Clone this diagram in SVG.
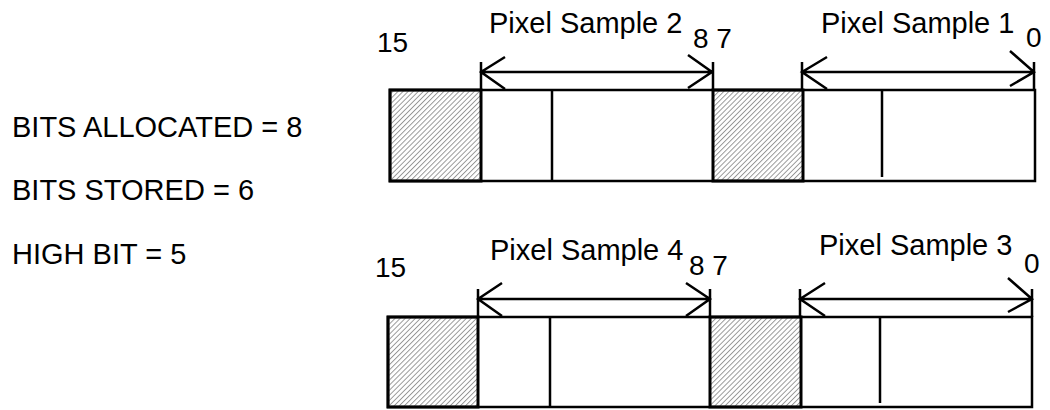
<svg xmlns="http://www.w3.org/2000/svg" width="1050" height="410" viewBox="0 0 1050 410">
<style>
text{font-family:"Liberation Sans",Arial,sans-serif;font-size:29px;fill:#000}
text.n{font-size:28px}
.box{fill:#fff;stroke:#000;stroke-width:2.5}
.hatch{fill:url(#h);stroke:#000;stroke-width:3}
.div{stroke:#000;stroke-width:2.5;fill:none}
.arr{stroke:#000;stroke-width:2.5;fill:none}
</style>
<defs>
<pattern id="h" width="3.6" height="10" patternUnits="userSpaceOnUse" patternTransform="rotate(45)">
<line x1="0.5" y1="0" x2="0.5" y2="10" stroke="#666" stroke-width="0.7"/>
</pattern>
</defs>
<g id="labels">
<text x="12" y="137">BITS ALLOCATED = 8</text>
<text x="12" y="200">BITS STORED = 6</text>
<text x="12" y="264">HIGH BIT = 5</text>
</g>
<g id="word1">
<rect class="box" x="390" y="90" width="645" height="91"/>
<rect class="hatch" x="390" y="90" width="91" height="91"/>
<rect class="hatch" x="713" y="90" width="90" height="91"/>
<line class="div" x1="552" y1="90" x2="552" y2="181"/>
<line class="div" x1="882" y1="90" x2="882" y2="177"/>
<text class="n" x="377" y="52">15</text>
<text class="n" x="693" y="48">8 7</text>
<text class="n" x="1026" y="47">0</text>
<text x="489" y="33">Pixel Sample 2</text>
<text x="821" y="33">Pixel Sample 1</text>
</g>
<g id="word2">
<rect class="box" x="388" y="317" width="644" height="90"/>
<rect class="hatch" x="388" y="317" width="90" height="90"/>
<rect class="hatch" x="710" y="317" width="91" height="90"/>
<line class="div" x1="550" y1="317" x2="550" y2="407"/>
<line class="div" x1="880" y1="317" x2="880" y2="403"/>
<text class="n" x="375" y="277">15</text>
<text class="n" x="689" y="275">8 7</text>
<text class="n" x="1024" y="273">0</text>
<text x="490" y="260">Pixel Sample 4</text>
<text x="819" y="255">Pixel Sample 3</text>
</g>
<g id="connectors">
<path class="arr" d="M481,62V90M713,62V90M481,72H713M505,57L481,72L505,89M688,55L712,72L688,88"/>
<path class="arr" d="M802,62V90M1034,62V90M802,72H1034M827,57L802,72L827,89M1010,51L1034,72L1010,86"/>
<path class="arr" d="M478,289V317M710,289V317M478,299H710M502,283L478,299L502,316M686,283L710,299L686,316"/>
<path class="arr" d="M800,289V317M1032,289V317M800,299H1032M825,283L800,299L825,316M1008,278L1032,299L1008,312"/>
</g>
</svg>
